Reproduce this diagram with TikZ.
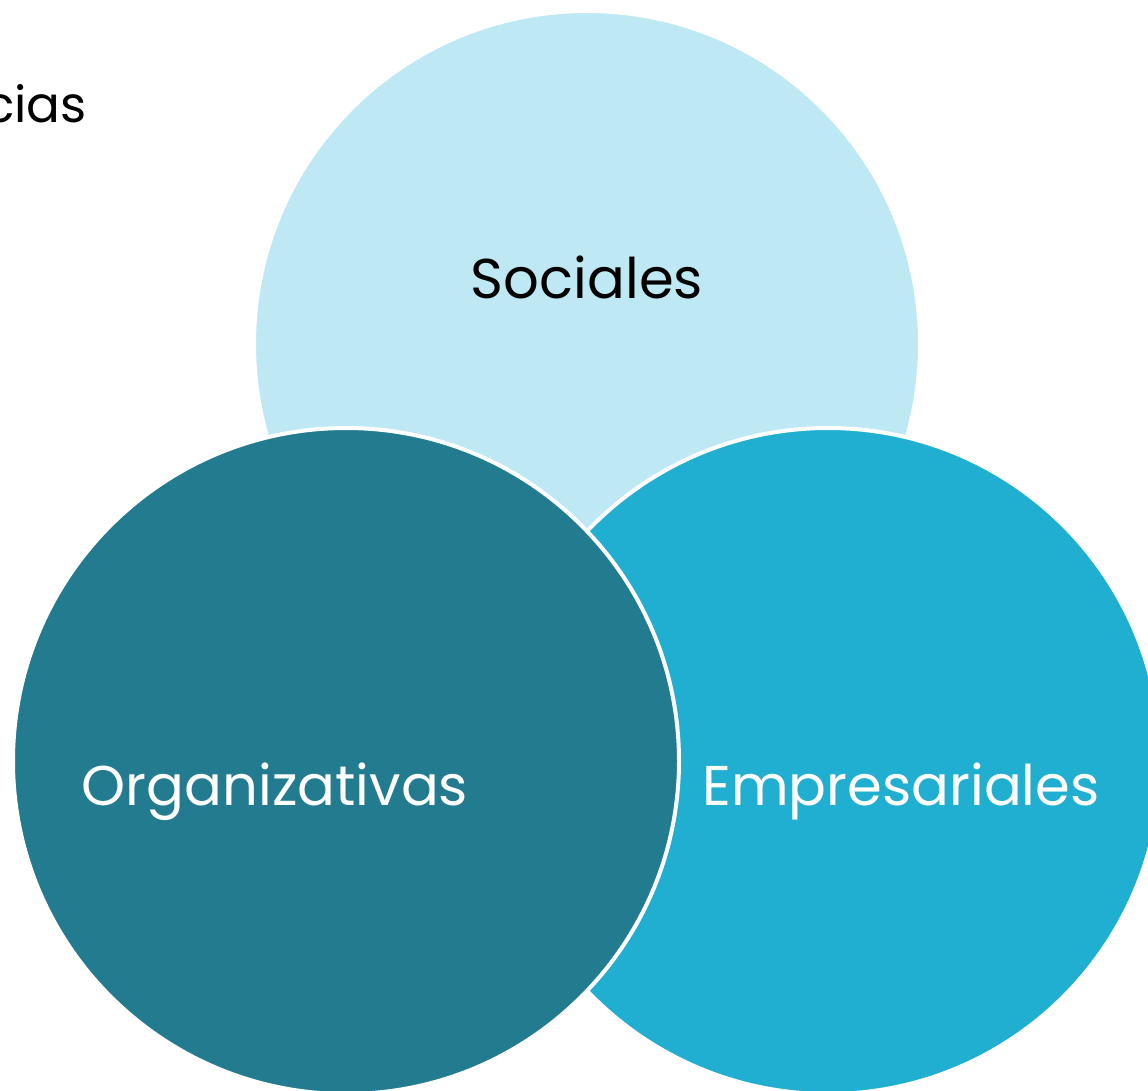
\documentclass[tikz,border=0pt]{standalone}
\usepackage{fontspec}
\setmainfont{Poppins}
\definecolor{csoc}{HTML}{BEE9F4}
\definecolor{corg}{HTML}{237B8F}
\definecolor{cemp}{HTML}{21AFD1}
\tikzset{
  venn/.style={circle, draw=white, line width=4pt, minimum size=666pt, inner sep=0pt},
  lbl/.style={anchor=base, font=\fontsize{56}{66}\selectfont, inner sep=0pt}
}
\begin{document}
\begin{tikzpicture}[x=1pt,y=-1pt]
\useasboundingbox (0,0) rectangle (1148,1090);
\node[venn, fill=csoc] (soc) at (587,344) {};
\node[venn, fill=cemp] (emp) at (828,761) {};
\node[venn, fill=corg] (org) at (346,761) {};
\node[lbl, text=black] (tsoc) at (587,298) {Sociales};
\node[lbl, text=white] (torg) at (275,805) {Organizativas};
\node[lbl, text=white] (temp) at (901,805) {Empresariales};
\node[lbl, anchor=base east, text=black, font=\fontsize{50}{60}\selectfont] (tcias) at (87,122) {cias};
\end{tikzpicture}
\end{document}
